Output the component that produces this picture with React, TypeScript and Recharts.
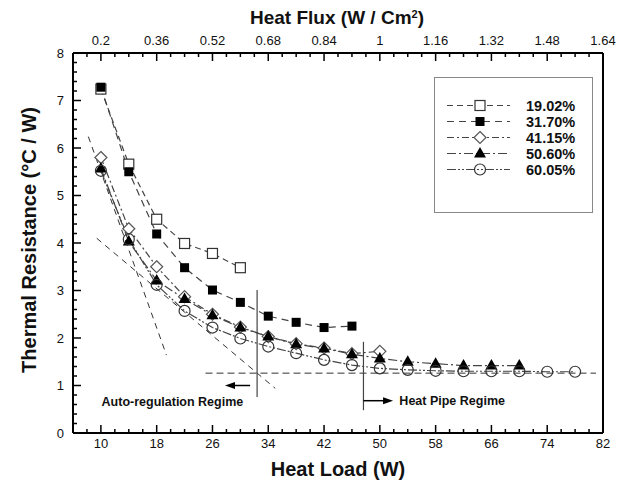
import React from 'react';
import { LineChart, Line, XAxis, YAxis, ReferenceLine, ReferenceDot, Legend } from 'recharts';

// heat load (W) and thermal resistance (°C/W) per fill ratio
const loads = [10, 14, 18, 22, 26, 30, 34, 38, 42, 46, 50, 54, 58, 62, 66, 70, 74, 78];
const r1902 = [7.24, 5.66, 4.5, 3.99, 3.78, 3.48];
const r3170 = [7.28, 5.5, 4.19, 3.48, 3.01, 2.75, 2.46, 2.33, 2.22, 2.25];
const r4115 = [5.8, 4.3, 3.5, 2.87, 2.5, 2.23, 2.03, 1.88, 1.79, 1.67, 1.72];
const r5060 = [5.57, 4.03, 3.21, 2.82, 2.48, 2.22, 2.03, 1.87, 1.78, 1.66, 1.57, 1.5, 1.46, 1.42, 1.42, 1.42];
const r6005 = [5.52, 4.08, 3.12, 2.57, 2.22, 1.99, 1.82, 1.68, 1.54, 1.43, 1.36, 1.33, 1.31, 1.3, 1.3, 1.3, 1.29, 1.29];

const seriesNames = ['19.02%', '31.70%', '41.15%', '50.60%', '60.05%'];
const loadTicks = [10, 18, 26, 34, 42, 50, 58, 66, 74, 82];
const resistanceTicks = [0, 1, 2, 3, 4, 5, 6, 7, 8];

const minorLoadTicks = Array.from({ length: 39 }, (_, i) => 6 + i * 2);
const minorResTicks = Array.from({ length: 41 }, (_, i) => Math.round(i * 2) / 10);

const data = loads.map((load, i) => ({
  load,
  s1: r1902[i],
  s2: r3170[i],
  s3: r4115[i],
  s4: r5060[i],
  s5: r6005[i],
}));

const seriesStyles = [
  { key: 's1', dash: '6 4', marker: 'squareOpen' },
  { key: 's2', dash: '7 5', marker: 'squareFilled' },
  { key: 's3', dash: '7 3 2 3', marker: 'diamond' },
  { key: 's4', dash: '9 3 2 3', marker: 'triangle' },
  { key: 's5', dash: '9 2 2 2 2 2', marker: 'circle' },
];

const FONT = '"Liberation Sans", Arial, sans-serif';

function marker(type: string, cx: number, cy: number, key?: any) {
  switch (type) {
    case 'squareOpen':
      return <rect key={key} x={cx - 5} y={cy - 5} width={10} height={10} fill="#fff" stroke="#333" strokeWidth={1.2} />;
    case 'squareFilled':
      return <rect key={key} x={cx - 4.5} y={cy - 4.5} width={9} height={9} fill="#000" />;
    case 'diamond':
      return <polygon key={key} points={`${cx},${cy - 6} ${cx + 6},${cy} ${cx},${cy + 6} ${cx - 6},${cy}`} fill="#fff" stroke="#555" strokeWidth={1.2} />;
    case 'triangle':
      return <polygon key={key} points={`${cx},${cy - 6.5} ${cx + 6},${cy + 4} ${cx - 6},${cy + 4}`} fill="#000" />;
    default:
      return <circle key={key} cx={cx} cy={cy} r={5.5} fill="none" stroke="#333" strokeWidth={1.2} />;
  }
}

const isMajor = (v: number) => Math.abs(v - Math.round(v)) < 1e-6;

const BottomTick = (props: any) => {
  const { x, y, payload } = props;
  const major = loadTicks.includes(payload.value);
  return (
    <g>
      <line x1={x} x2={x} y1={y} y2={y - (major ? 8 : 4)} stroke="#000" strokeWidth={1.5} />
      {major && (
        <text x={x} y={y + 15} textAnchor="middle" fontSize={13} fill="#111" fontFamily={FONT}>
          {payload.value}
        </text>
      )}
    </g>
  );
};

const TopTick = (props: any) => {
  const { x, y, payload } = props;
  const major = loadTicks.includes(payload.value);
  return (
    <g>
      <line x1={x} x2={x} y1={y} y2={y + (major ? 8 : 4)} stroke="#000" strokeWidth={1.5} />
      {major && (
        <text x={x} y={y - 8} textAnchor="middle" fontSize={13} fill="#111" fontFamily={FONT}>
          {String(Number((payload.value / 50).toFixed(2)))}
        </text>
      )}
    </g>
  );
};

const LeftTick = (props: any) => {
  const { x, y, payload } = props;
  const major = isMajor(payload.value);
  return (
    <g>
      <line x1={x} x2={x + (major ? 8 : 4)} y1={y} y2={y} stroke="#000" strokeWidth={1.5} />
      {major && (
        <text x={x - 9} y={y + 4.5} textAnchor="end" fontSize={13} fill="#111" fontFamily={FONT}>
          {Math.round(payload.value)}
        </text>
      )}
    </g>
  );
};

const LegendBox = () => (
  <div style={{ width: 159, height: 136, border: '1px solid #888', background: '#fff', boxSizing: 'border-box' }}>
    <svg width={157} height={134}>
      {seriesStyles.map((s, i) => {
        const cy = 27.5 + i * 16;
        return (
          <g key={s.key}>
            <line x1={12} x2={75} y1={cy} y2={cy} stroke="#444" strokeWidth={1.2} strokeDasharray={s.dash} />
            {marker(s.marker, 45, cy)}
            <text x={91} y={cy + 5.5} fontSize={14.5} fontWeight="bold" fill="#111" fontFamily={FONT}>
              {seriesNames[i]}
            </text>
          </g>
        );
      })}
    </svg>
  </div>
);

const textShape = (label: string) => (p: any) => (
  <text x={p.cx} y={p.cy + 4} fontSize={12.5} fontWeight="bold" fill="#111" fontFamily={FONT}>
    {label}
  </text>
);

const arrowHead = (dir: 'left' | 'right') => (p: any) => {
  const s = dir === 'left' ? 1 : -1;
  return <polygon points={`${p.cx},${p.cy} ${p.cx + s * 10},${p.cy - 3.5} ${p.cx + s * 10},${p.cy + 3.5}`} fill="#000" />;
};

export default function App() {
  return (
    <div style={{ fontFamily: FONT }}>
      <LineChart width={611} height={475} data={data} margin={{ top: 25, right: 16, bottom: 25, left: 25 }}>
        <XAxis
          dataKey="load"
          type="number"
          domain={[6, 82]}
          ticks={minorLoadTicks}
          interval={0}
          allowDataOverflow
          height={25}
          tickSize={0}
          tickMargin={0}
          tickLine={false}
          tick={<BottomTick />}
          axisLine={{ stroke: '#000', strokeWidth: 2 }}
        />
        <XAxis
          xAxisId="top"
          dataKey="load"
          orientation="top"
          type="number"
          domain={[6, 82]}
          ticks={minorLoadTicks}
          interval={0}
          allowDataOverflow
          height={20}
          tickSize={0}
          tickMargin={0}
          tickLine={false}
          tick={<TopTick />}
          axisLine={{ stroke: '#000', strokeWidth: 2 }}
        />
        <YAxis
          type="number"
          domain={[0, 8]}
          ticks={minorResTicks}
          interval={0}
          allowDataOverflow
          width={40}
          tickSize={0}
          tickMargin={0}
          tickLine={false}
          tick={<LeftTick />}
          axisLine={{ stroke: '#000', strokeWidth: 2 }}
        />
        <ReferenceLine x={82} stroke="#000" strokeWidth={2} />

        {/* tangent / asymptote construction lines */}
        <ReferenceLine segment={[{ x: 8.2, y: 6.24 }, { x: 19.4, y: 1.64 }]} stroke="#333" strokeDasharray="6 5" />
        <ReferenceLine segment={[{ x: 9.4, y: 4.1 }, { x: 35, y: 0.94 }]} stroke="#333" strokeDasharray="6 5" />
        <ReferenceLine segment={[{ x: 25, y: 1.26 }, { x: 81, y: 1.26 }]} stroke="#333" strokeDasharray="7 4" />
        <ReferenceLine segment={[{ x: 32.4, y: 3.01 }, { x: 32.4, y: 0.76 }]} stroke="#444" strokeWidth={1.2} />
        <ReferenceLine segment={[{ x: 47.65, y: 1.92 }, { x: 47.65, y: 0.48 }]} stroke="#444" strokeWidth={1.2} />
        <ReferenceLine segment={[{ x: 28.6, y: 1.0 }, { x: 31.4, y: 1.0 }]} stroke="#000" strokeWidth={1.5} />
        <ReferenceDot x={27.8} y={1.0} r={0} shape={arrowHead('left')} />
        <ReferenceLine segment={[{ x: 47.65, y: 0.68 }, { x: 50.6, y: 0.68 }]} stroke="#000" strokeWidth={1.5} />
        <ReferenceDot x={51.9} y={0.68} r={0} shape={arrowHead('right')} />
        <ReferenceDot x={10.1} y={0.66} r={0} shape={textShape('Auto-regulation Regime')} />
        <ReferenceDot x={52.8} y={0.68} r={0} shape={textShape('Heat Pipe Regime')} />

        {/* invisible series so the heat-flux axis gets a domain */}
        <Line xAxisId="top" dataKey="s5" stroke="none" dot={false} activeDot={false} legendType="none" isAnimationActive={false} />

        {seriesStyles.map((s, i) => (
          <Line
            key={s.key}
            dataKey={s.key}
            name={seriesNames[i]}
            type="linear"
            stroke="#444"
            strokeWidth={1.2}
            strokeDasharray={s.dash}
            isAnimationActive={false}
            dot={(p: any) => (p.value == null ? <g key={p.index} /> : marker(s.marker, p.cx, p.cy, p.index))}
            activeDot={false}
          />
        ))}

        <Legend
          layout="vertical"
          align="center"
          verticalAlign="middle"
          content={<LegendBox />}
          wrapperStyle={{ left: 426, top: 69, width: 159 }}
        />

        <text x={330} y={468} textAnchor="middle" fontSize={20} fontWeight="bold" fill="#111" fontFamily={FONT}>
          Heat Load (W)
        </text>
        <text x={329} y={16} textAnchor="middle" fontSize={19} fontWeight="bold" fill="#111" fontFamily={FONT}>
          Heat Flux (W / Cm<tspan dy={-6} fontSize={11}>2</tspan><tspan dy={6}>)</tspan>
        </text>
        <text
          x={0}
          y={0}
          transform="translate(28, 232) rotate(-90)"
          textAnchor="middle"
          fontSize={20}
          fontWeight="bold"
          fill="#111"
          fontFamily={FONT}
        >
          Thermal Resistance (°C / W)
        </text>
      </LineChart>
    </div>
  );
}
